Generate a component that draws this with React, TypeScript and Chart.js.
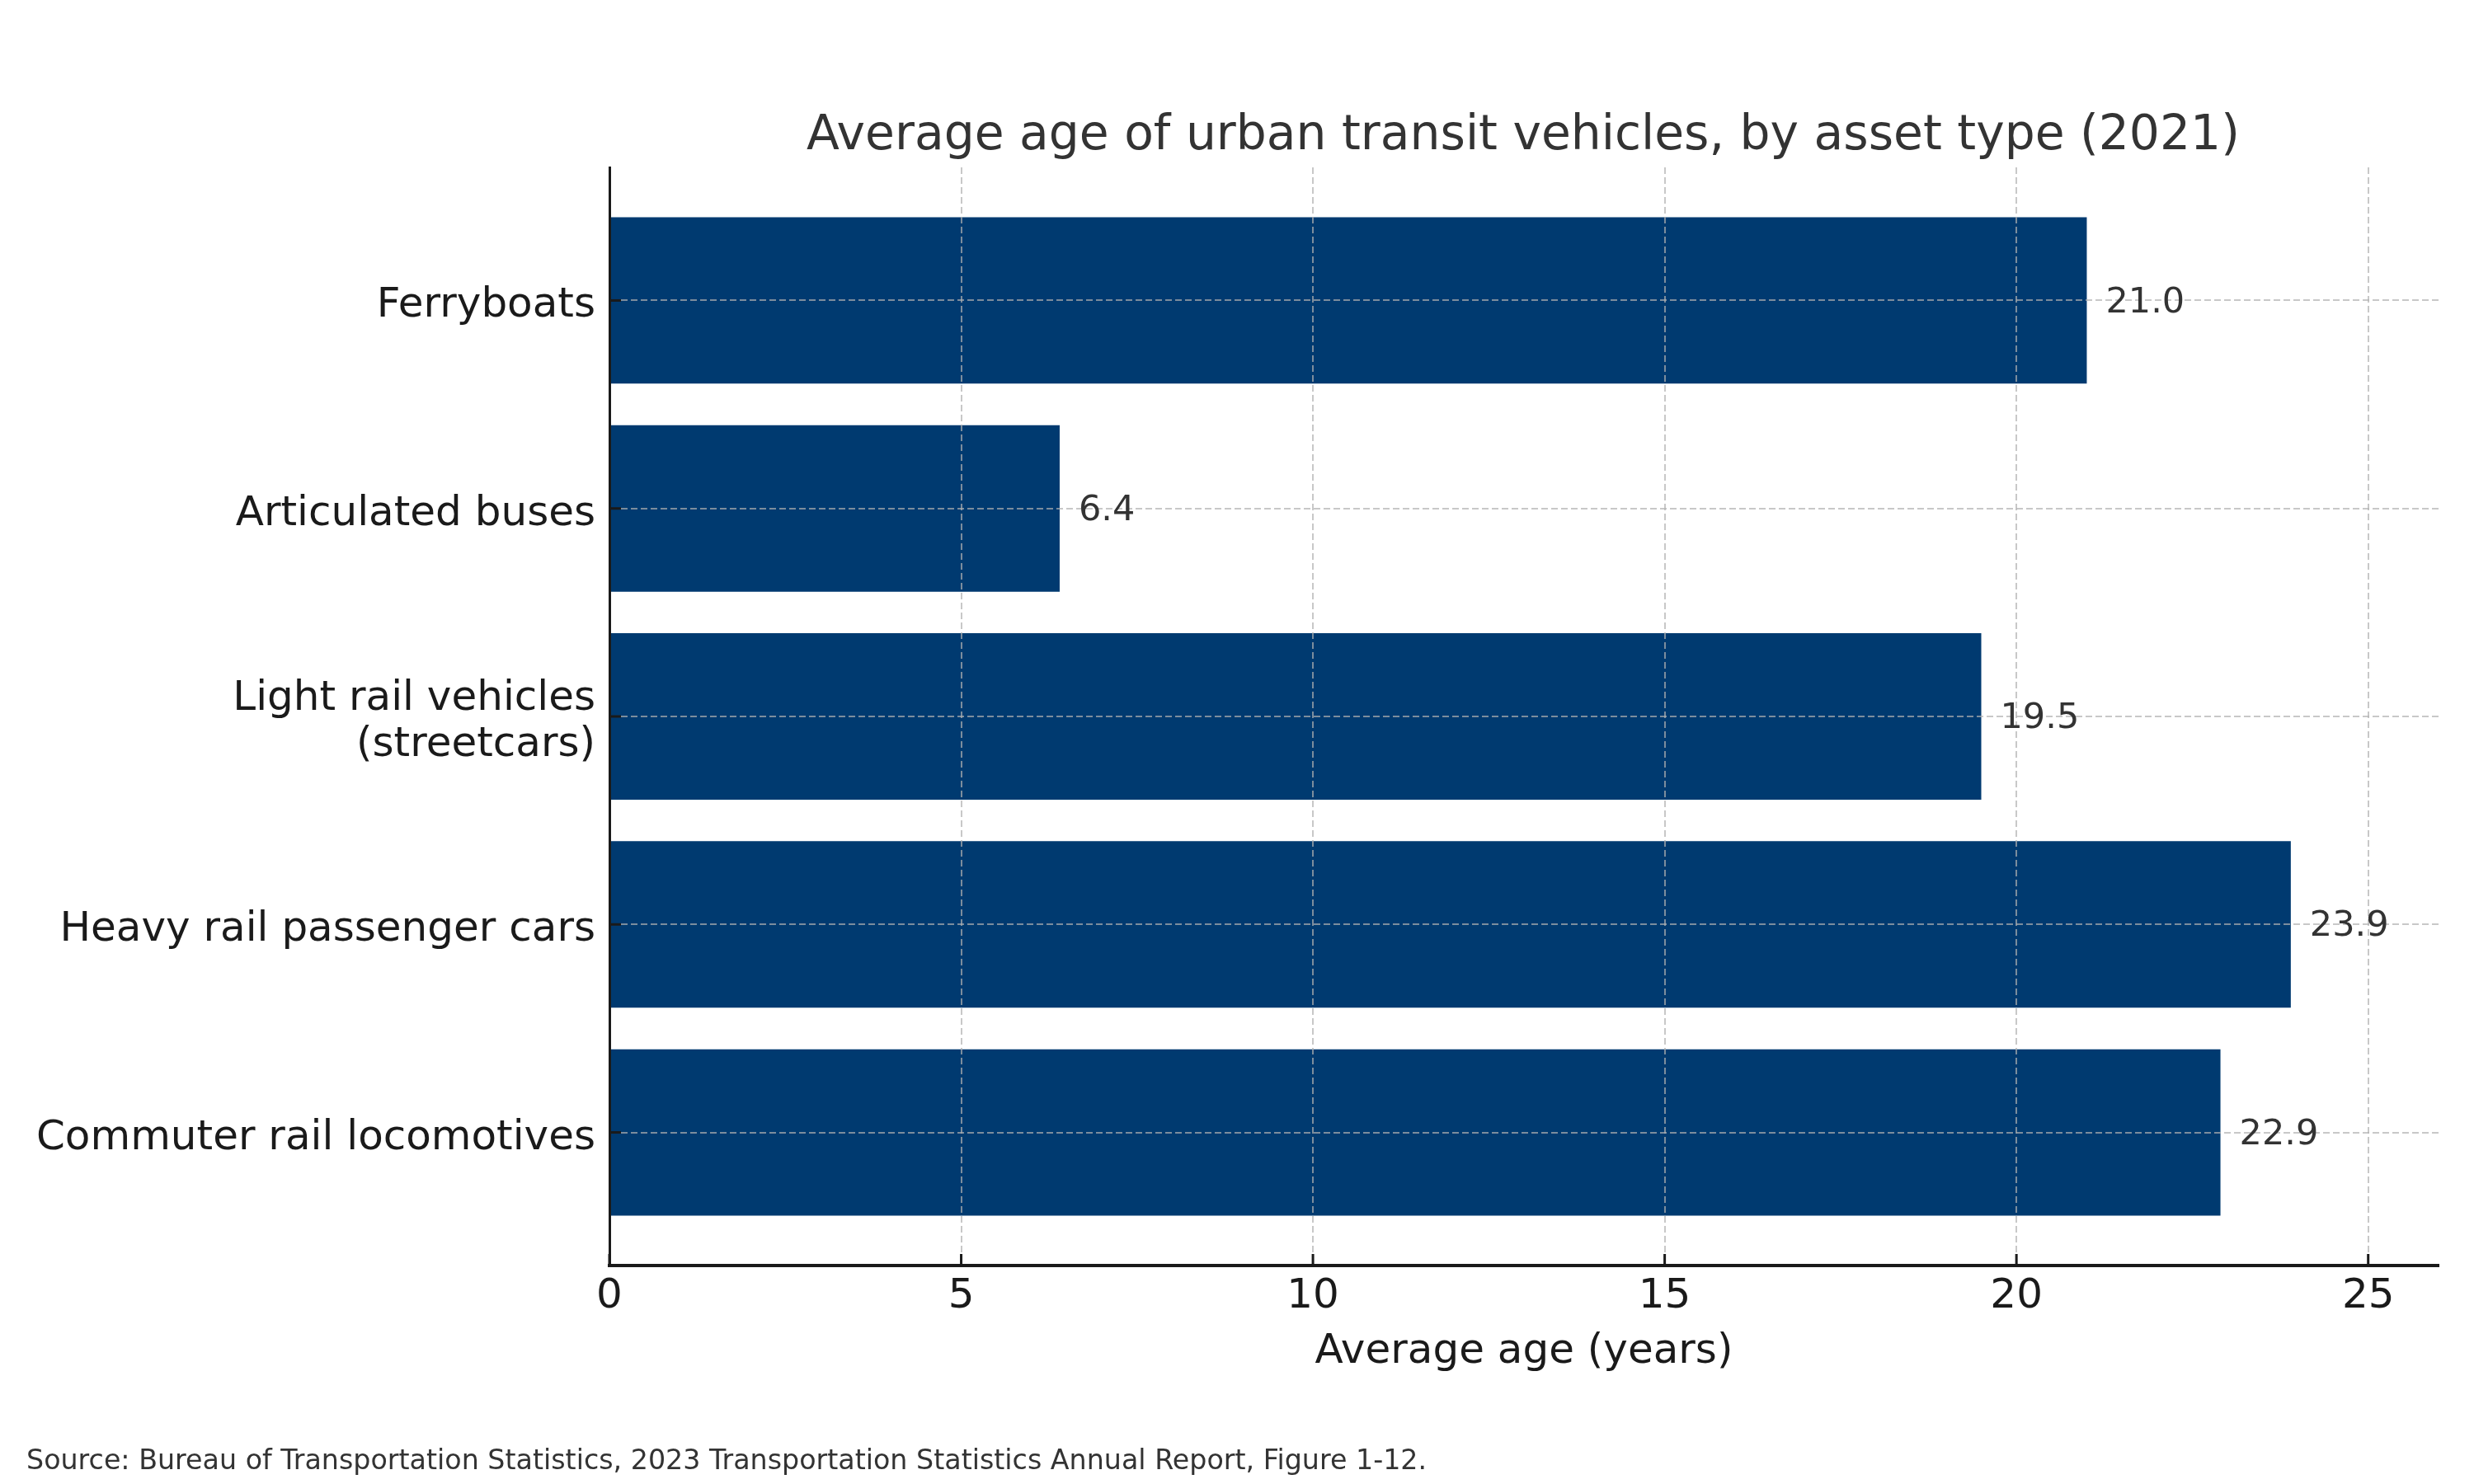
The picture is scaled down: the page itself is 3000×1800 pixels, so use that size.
import React, { useEffect, useRef } from "react";
import { Chart, registerables } from "chart.js";

Chart.register(...registerables);

const title = "Average age of urban transit vehicles, by asset type (2021)";
const xAxisTitle = "Average age (years)";
const sourceNote =
  "Source: Bureau of Transportation Statistics, 2023 Transportation Statistics Annual Report, Figure 1-12.";

// Top-to-bottom order as shown
const categories = [
  "Ferryboats",
  "Articulated buses",
  "Light rail vehicles\n(streetcars)",
  "Heavy rail passenger cars",
  "Commuter rail locomotives",
];
const averageAge = [21.0, 6.4, 19.5, 23.9, 22.9];
const xTicks = [0, 5, 10, 15, 20, 25];

const FONT = "'DejaVu Sans', 'Noto Sans', sans-serif";
const BAR_COLOR = "#003a70";
const GRID_COLOR = "rgba(176,176,176,0.7)";
const SPINE_COLOR = "#1a1a1a";

const overlayPlugin = {
  id: "overlay",
  afterDraw(chart: any) {
    const { ctx, chartArea } = chart;
    const xs = chart.scales.x;
    const ys = chart.scales.y;
    ctx.save();

    // inward tick marks
    ctx.strokeStyle = SPINE_COLOR;
    ctx.lineWidth = 3;
    ctx.setLineDash([]);
    xs.ticks.forEach((t: any) => {
      const px = xs.getPixelForValue(t.value);
      ctx.beginPath();
      ctx.moveTo(px, chartArea.bottom);
      ctx.lineTo(px, chartArea.bottom - 14);
      ctx.stroke();
    });
    ys.ticks.forEach((t: any) => {
      const py = ys.getPixelForValue(t.value);
      ctx.beginPath();
      ctx.moveTo(chartArea.left, py);
      ctx.lineTo(chartArea.left + 14, py);
      ctx.stroke();
    });

    // value labels
    const meta = chart.getDatasetMeta(0);
    ctx.fillStyle = "#333333";
    ctx.font = `43px ${FONT}`;
    ctx.textAlign = "left";
    ctx.textBaseline = "middle";
    meta.data.forEach((bar: any, i: number) => {
      ctx.fillText(averageAge[i].toFixed(1), bar.x + 23, bar.y + 3);
    });

    // title
    const cx = (chartArea.left + chartArea.right) / 2;
    ctx.textBaseline = "alphabetic";
    ctx.textAlign = "center";
    ctx.fillStyle = "#333333";
    ctx.font = `58.3px ${FONT}`;
    ctx.fillText(title, cx - 1, 181);

    // x axis title
    ctx.fillStyle = "#1a1a1a";
    ctx.font = `50px ${FONT}`;
    ctx.fillText(xAxisTitle, cx, 1653);

    // source
    ctx.textAlign = "left";
    ctx.fillStyle = "#333333";
    ctx.font = `33.3px ${FONT}`;
    ctx.fillText(sourceNote, 32, 1782);

    ctx.restore();
  },
};

export default function App() {
  const ref = useRef<HTMLCanvasElement | null>(null);

  useEffect(() => {
    document.body.style.margin = "0";
    if (!ref.current) return;
    Chart.defaults.font.family = FONT;
    const chart = new Chart(ref.current, {
      type: "bar",
      data: {
        datasets: [
          {
            data: averageAge.map((v, i) => ({ x: v, y: i })),
            backgroundColor: BAR_COLOR,
            borderWidth: 0,
            barPercentage: 0.8,
            categoryPercentage: 1.0,
          },
        ],
      },
      options: {
        indexAxis: "y",
        animation: false,
        responsive: false,
        devicePixelRatio: 1,
        layout: { padding: { top: 203, right: 43, bottom: 0, left: 0 } },
        plugins: {
          legend: { display: false },
          tooltip: { enabled: false },
          title: { display: false },
        },
        scales: {
          x: {
            type: "linear",
            min: 0,
            max: 26,
            offset: false,
            afterFit: (s: any) => {
              s.height = 265;
            },
            afterBuildTicks: (s: any) => {
              s.ticks = xTicks.map((v) => ({ value: v }));
            },
            ticks: {
              color: "#1a1a1a",
              font: { size: 50, family: FONT, lineHeight: 1.2 },
              padding: 8,
              z: 2,
              callback: (v: any) => String(v),
            },
            grid: {
              color: GRID_COLOR,
              lineWidth: 2,
              drawTicks: false,
              offset: false,
              z: 1,
            },
            border: {
              display: true,
              color: SPINE_COLOR,
              width: 4,
              dash: [8, 4],
              z: 2,
            },
          },
          y: {
            type: "linear",
            min: -0.64,
            max: 4.64,
            reverse: true,
            offset: false,
            afterFit: (s: any) => {
              s.width = 739;
            },
            afterBuildTicks: (s: any) => {
              s.ticks = categories.map((_, i) => ({ value: i }));
            },
            ticks: {
              color: "#1a1a1a",
              font: { size: 50, family: FONT, lineHeight: 1.12 },
              padding: 17,
              labelOffset: 7,
              z: 2,
              callback: (v: any) => {
                const c = categories[Math.round(Number(v))];
                return c ? c.split("\n") : "";
              },
            },
            grid: {
              color: GRID_COLOR,
              lineWidth: 2,
              drawTicks: false,
              offset: false,
              z: 1,
            },
            border: {
              display: true,
              color: SPINE_COLOR,
              width: 3,
              dash: [8, 4],
              z: 2,
            },
          },
        },
      },
      plugins: [overlayPlugin],
    } as any);
    return () => chart.destroy();
  }, []);

  return (
    <div style={{ position: "fixed", left: 0, top: 0, width: 3000, height: 1800, background: "#fff" }}>
      <canvas ref={ref} width={3000} height={1800} />
    </div>
  );
}
